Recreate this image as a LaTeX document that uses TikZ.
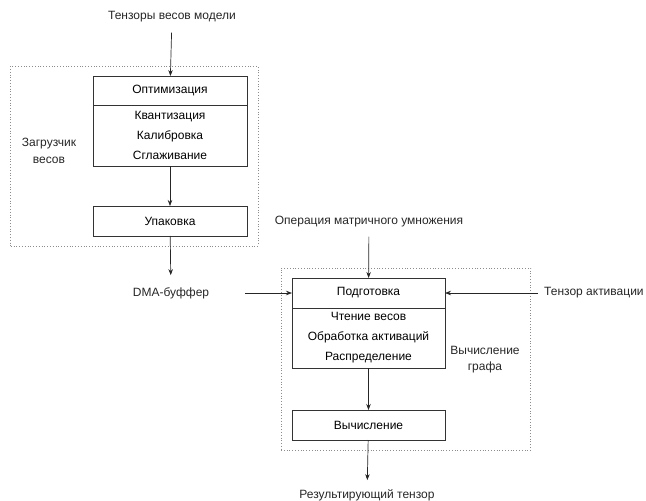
\documentclass[tikz,border=0pt]{standalone}
\usepackage{fontspec}
\setmainfont{Liberation Sans}
\usetikzlibrary{arrows.meta, positioning, fit}

\begin{document}
\begin{tikzpicture}[
    x=1pt, y=-1pt,
    font=\fontsize{12}{14}\selectfont,
    block/.style={
        rectangle, draw=black!80, line width=0.7pt,
        minimum width=153pt, minimum height=30pt,
        inner sep=0pt, outer sep=0pt, align=center
    },
    sublist/.style={block, font=\fontsize{12}{20}\selectfont},
    txt/.style={inner sep=2pt, align=center, text=black!85},
    group/.style={draw=black!45, dotted, line width=0.8pt, inner ysep=10pt, inner xsep=11pt},
    arrow/.style={-{Stealth[length=6pt, width=4.5pt]}, line width=0.7pt, black!85},
]
\useasboundingbox (0,0) rectangle (646,501);

% Weight loader
\node[txt] (weights) at (172,17) {Тензоры весов модели};
\node[block, minimum width=154pt, minimum height=29pt] (optim) at (170,90.5) {Оптимизация};
\node[sublist, minimum width=154pt, below=0pt of optim, minimum height=61pt] (quant) {Квантизация\\Калибровка\\Сглаживание};
\node[block, minimum width=154pt, below=40pt of quant] (pack) {Упаковка};
\node[txt, inner sep=0pt, font=\fontsize{12}{17}\selectfont] (loadlbl) at (49,151) {Загрузчик\\весов};
\node[group, fit=(optim)(pack)(loadlbl)] (loader) {};

\node[txt] (dma) at (171,293) {DMA-буффер};

% Graph computation
\node[txt] (matmul) at (369,222) {Операция матричного умножения};
\node[block] (prep) at (368.5,293) {Подготовка};
\node[sublist, below=0pt of prep, minimum height=60pt] (read) {Чтение весов\\Обработка активаций\\Распределение};
\node[block, below=42pt of read] (comp) {Вычисление};
\node[txt, inner sep=0pt, font=\fontsize{12}{16}\selectfont] (graphlbl) at (485,360) {Вычисление\\графа};
\node[group, fit=(prep)(comp)(graphlbl)] (graph) {};

\node[txt, anchor=west] (act) at (542,293) {Тензор активации};
\node[txt] (result) at (367,495) {Результирующий тензор};

% Arrows
\draw[arrow, shorten <=8pt] (weights) -- (optim);
\draw[arrow] (quant) -- (pack);
\draw[arrow, shorten >=10pt] (pack) -- (dma);
\draw[arrow, shorten <=34pt] (dma) -- (prep);
\draw[arrow, shorten <=4pt] (act) -- (prep);
\draw[arrow, shorten <=7pt] (matmul) -- (prep);
\draw[arrow] (read) -- (comp);
\draw[arrow, shorten >=7pt] (comp) -- (result);

\end{tikzpicture}
\end{document}
